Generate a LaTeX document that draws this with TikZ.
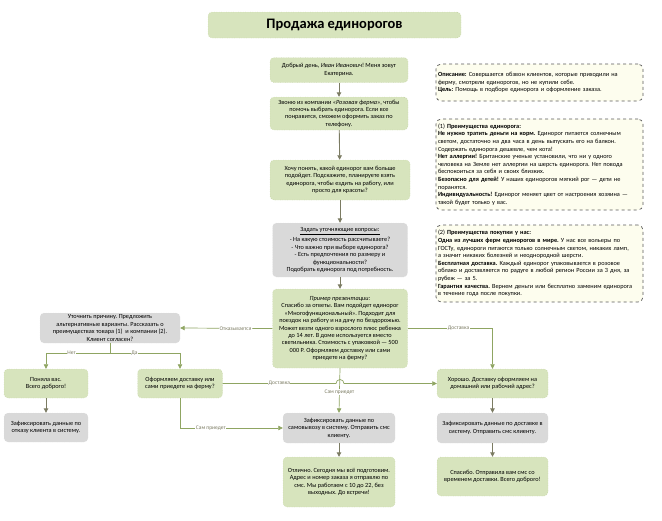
\documentclass[tikz,border=0pt]{standalone}
\usepackage{fontspec}
\setmainfont{Carlito}
\frenchspacing
\usetikzlibrary{arrows.meta}
\definecolor{boxgreen}{HTML}{D7E4BD}
\definecolor{boxgrey}{HTML}{D9D9D9}
\definecolor{boxedge}{HTML}{B3C28E}
\definecolor{notefill}{HTML}{FDFDEE}
\definecolor{noteedge}{HTML}{5A5A5A}
\definecolor{arrowgrey}{HTML}{7B7B62}
\definecolor{linkgreen}{HTML}{8FA562}
\tikzset{
 greenbox/.style={draw=boxedge, dotted, fill=boxgreen, rounded corners=4pt, align=center, inner sep=1pt, font=\fontsize{6.3}{7.4}\selectfont},
 greybox/.style={greenbox, fill=boxgrey, draw=white!70!gray},
 notebox/.style={draw=noteedge, dashed, line width=0.7pt, fill=notefill, rounded corners=5pt, align=left, inner sep=2pt, text width=203pt, font=\fontsize{6.3}{7.6}\selectfont},
 flow/.style={draw=arrowgrey, line width=0.9pt, -{Triangle[width=4.5pt,length=4.5pt]}},
 link/.style={draw=linkgreen, line width=0.7pt, -{Triangle[width=4.5pt,length=4.5pt]}},
 linklabel/.style={fill=white, inner sep=0.5pt, text=arrowgrey, font=\fontsize{5.5}{6.5}\selectfont}
}
\begin{document}
\begin{tikzpicture}[x=1pt,y=-1pt]
 \useasboundingbox (0,0) rectangle (662,520);
 \node[greenbox, font=\fontsize{14.5}{16}\selectfont\bfseries, minimum width=253pt, minimum height=26pt] (title) at (334.5,25) {Продажа единорогов};

 \node[greenbox, minimum width=138pt, minimum height=25pt] (greet) at (339,70) {Добрый день, \textit{Иван Иванович}! Меня зовут\\Екатерина.};
 \node[greenbox, minimum width=138pt, minimum height=33pt] (call) at (339,113.5) {Звоню из компании «\textit{Розовая ферма}», чтобы\\помочь выбрать единорога. Если все\\понравится, сможем оформить заказ по\\телефону.};
 \node[greenbox, minimum width=140pt, minimum height=40pt] (ask) at (340,180) {Хочу понять, какой единорог вам больше\\подойдет. Подскажите, планируете взять\\единорога, чтобы ездить на работу, или\\просто для красоты?};
 \node[greybox, minimum width=135pt, minimum height=54pt] (clarify) at (340,250) {\underline{Задать уточняющие вопросы:}\\[3pt]- На какую стоимость рассчитываете?\\- Что важно при выборе единорога?\\- Есть предпочтения по размеру и\\функциональности?\\Подобрать единорога под потребность.};
 \node[greenbox, minimum width=135pt, minimum height=79pt] (present) at (340,328.5) {\textit{Пример презентации:}\\Спасибо за ответы. Вам подойдет единорог\\«Многофункциональный». Подходит для\\поездок на работу и на дачу по бездорожью.\\Может везти одного взрослого плюс ребенка\\до 14 лет. В доме используется вместо\\светильника. Стоимость с упаковкой — 500\\000 Р. Оформляем доставку или сами\\приедете на ферму?};

 \node[greybox, minimum width=140pt, minimum height=30pt] (reason) at (110,328) {Уточнить причину. Предложить\\альтернативные варианты. Рассказать о\\преимуществах товара (1) \ и компании (2).\\Клиент согласен?};
 \node[greenbox, minimum width=84pt, minimum height=29pt] (bye) at (46,383.5) {Поняла вас.\\Всего доброго!};
 \node[greybox, minimum width=84pt, minimum height=29pt] (refuse) at (46,427.5) {Зафиксировать данные по\\отказу клиента в систему.};
 \node[greenbox, minimum width=85pt, minimum height=29pt] (how) at (180,383.5) {Оформляем доставку или\\сами приедете на ферму?};

 \node[greybox, minimum width=112pt, minimum height=30pt] (pickup) at (339,428) {Зафиксировать данные по\\самовывозу в систему. Отправить смс\\клиенту.};
 \node[greenbox, minimum width=112pt, minimum height=50pt] (done) at (339,482) {Отлично. Сегодня мы всё подготовим.\\Адрес и номер заказа я отправлю по\\смс. Мы работаем с 10 до 22, без\\выходных. До встречи!};

 \node[greenbox, minimum width=111pt, minimum height=29pt] (ok) at (492.5,383.5) {Хорошо. Доставку оформляем на\\домашний или рабочий адрес?};
 \node[greybox, minimum width=111pt, minimum height=30pt] (fixdel) at (492.5,428) {Зафиксировать данные по доставке в\\систему. Отправить смс клиенту.};
 \node[greenbox, minimum width=111pt, minimum height=39pt] (thanks) at (492.5,476.5) {Спасибо. Отправила вам смс со\\временем доставки. Всего доброго!};

 \node[notebox, minimum height=37pt] (goal) at (539.5,82.5) {\textbf{Описание:} Совершается обзвон клиентов, которые приходили на\\ферму, смотрели единорогов, но не купили себе.\\\textbf{Цель:} Помощь в подборе единорога и оформление заказа.};
 \node[notebox, minimum height=91pt] (pros) at (539.5,164.5) {(1) \textbf{Преимущества единорога:}\\\textbf{Не нужно тратить деньги на корм.} Единорог питается солнечным\\светом, достаточно на два часа в день выпускать его на балкон.\\Содержать единорога дешевле, чем кота!\\\textbf{Нет аллергии!} Британские ученые установили, что ни у одного\\человека на Земле нет аллергии на шерсть единорога. Нет повода\\беспокоиться за себя и своих близких.\\\textbf{Безопасно для детей!} У наших единорогов мягкий рог — дети не\\поранятся.\\\textbf{Индивидуальность!} Единорог меняет цвет от настроения хозяина —\\такой будет только у вас.};
 \node[notebox, minimum height=77pt] (farm) at (539.5,263.5) {(2) \textbf{Преимущества покупки у нас:}\\\textbf{Одна из лучших ферм единорогов в мире.} У нас все вольеры по\\ГОСТу, единороги питаются только солнечным светом, никаких ламп,\\а значит никаких болезней и неоднородной шерсти.\\\textbf{Бесплатная доставка.} Каждый единорог упаковывается в розовое\\облако и доставляется по радуге в любой регион России за 3 дня, за\\рубеж — за 5.\\\textbf{Гарантия качества.} Вернем деньги или бесплатно заменим единорога\\в течение года после покупки.};

 \draw[flow] (greet) -- (call);
 \draw[flow] (call) -- (ask);
 \draw[flow] (ask) -- (clarify);
 \draw[flow] (clarify) -- (present);
 \draw[flow] (bye) -- (refuse);
 \draw[flow] (pickup) -- (done);
 \draw[flow] (ok) -- (fixdel);
 \draw[flow] (fixdel) -- (thanks);

 \coordinate (fork) at (110,353);
 \draw[link] (present.west) -- node[linklabel, pos=0.4] {Отказывается} (reason.east);
 \draw[link, -] (reason.south) -- (fork);
 \draw[link] (fork) -- node[linklabel, pos=0.6] {Нет} (bye.north |- fork) -- (bye.north);
 \draw[link] (fork) -- node[linklabel, pos=0.35] {Да} (how.north |- fork) -- (how.north);
 \draw[link] (present.east) -- node[linklabel, pos=0.6] {Доставка} (ok.north |- present.east) -- (ok.north);
 \draw[link] (present.south) -- node[linklabel, pos=0.53] {Сам приедет} (pickup.north);
 \draw[link] (how.east) -- node[linklabel, pos=0.5] {Доставка} (336,383.5) arc[start angle=180, end angle=360, radius=4] -- (ok.west);
 \draw[link] (how.south) -- (how.south |- pickup.west) -- node[linklabel, pos=0.3] {Сам приедет} (pickup.west);
\end{tikzpicture}
\end{document}
